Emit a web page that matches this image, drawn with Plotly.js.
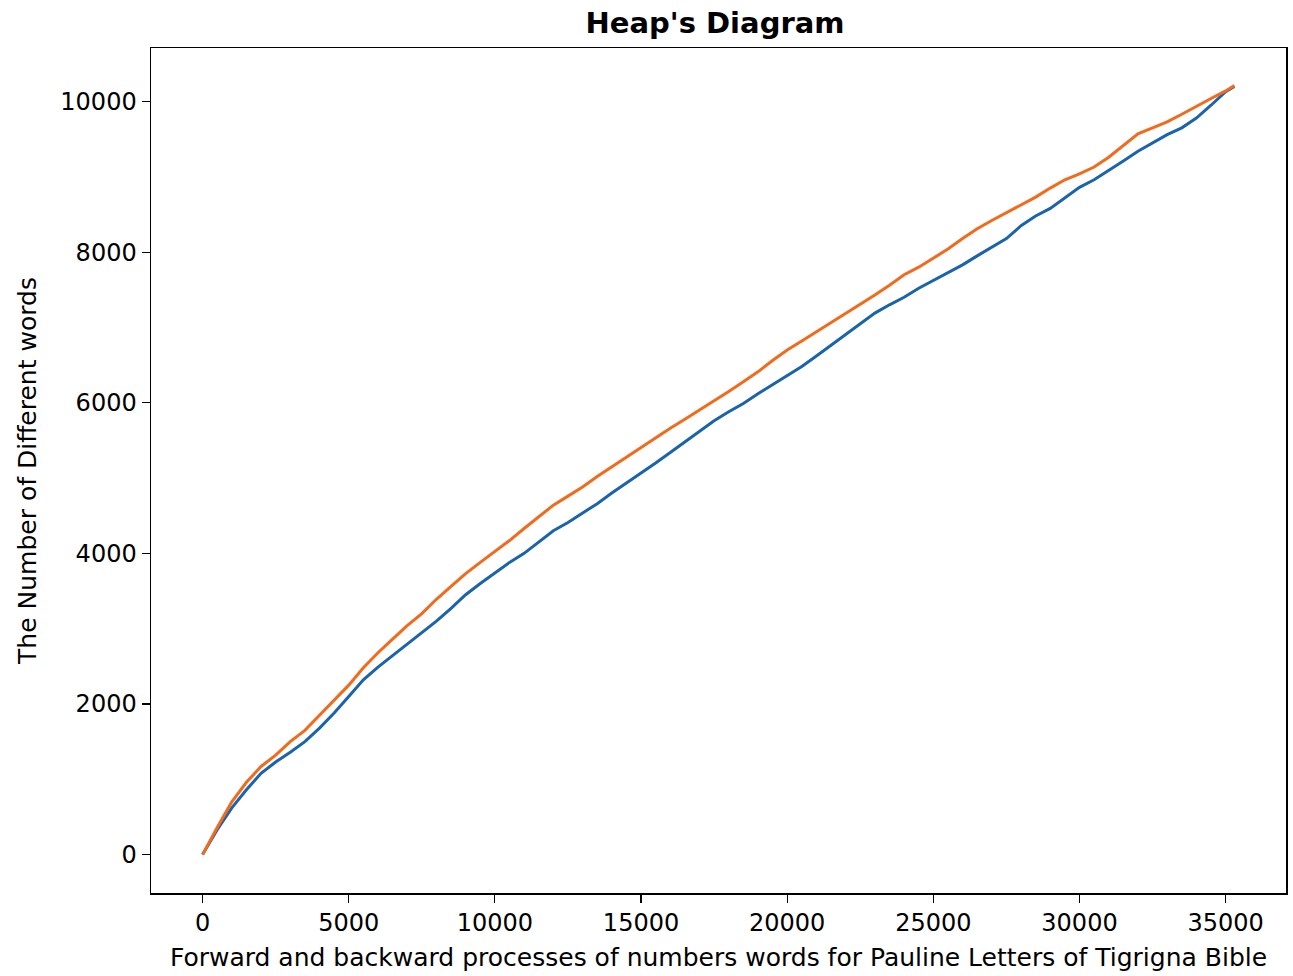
<!DOCTYPE html>
<html>
<head>
<meta charset="utf-8">
<script src="https://cdn.plot.ly/plotly-3.0.1.min.js"></script>
<style>html,body{margin:0;padding:0;background:#fff}</style>
</head>
<body>
<div id="chart" style="width:1293px;height:976px"></div>
<script>
const wordsX = [0,250,500,1000,1500,2000,2500,3000,3500,4000,4500,5000,5500,6000,6500,7000,7500,8000,8500,9000,9500,10000,10500,11000,11500,12000,12500,13000,13500,14000,14500,15000,15500,16000,16500,17000,17500,18000,18500,19000,19500,20000,20500,21000,21500,22000,22500,23000,23500,24000,24500,25000,25500,26000,26500,27000,27500,28000,28500,29000,29500,30000,30500,31000,31500,32000,32500,33000,33500,34000,34500,35000,35300];
const forwardY = [0,170,330,620,860,1080,1230,1360,1500,1680,1880,2100,2320,2490,2640,2800,2950,3100,3270,3450,3600,3740,3880,4000,4150,4300,4410,4530,4660,4800,4930,5060,5200,5340,5480,5620,5760,5880,5990,6120,6240,6360,6480,6620,6760,6900,7050,7190,7300,7400,7520,7620,7730,7830,7950,8060,8180,8350,8480,8580,8720,8860,8960,9080,9210,9340,9450,9560,9650,9780,9950,10130,10200];
const backwardY = [0,190,360,700,960,1170,1320,1500,1650,1850,2050,2250,2480,2680,2860,3040,3200,3390,3560,3730,3880,4020,4170,4330,4490,4640,4760,4880,5020,5150,5280,5410,5540,5660,5780,5900,6020,6150,6280,6410,6560,6700,6820,6940,7060,7190,7310,7430,7560,7700,7800,7920,8040,8180,8310,8420,8520,8620,8730,8850,8960,9040,9130,9260,9420,9570,9650,9730,9830,9940,10040,10140,10210];
const xTicks = [0,5000,10000,15000,20000,25000,30000,35000];
const yTicks = [0,2000,4000,6000,8000,10000];

const traces = [
  {x: wordsX, y: forwardY, type: 'scatter', mode: 'lines', name: 'Forward',
   line: {color: '#1b63ab', width: 3}},
  {x: wordsX, y: backwardY, type: 'scatter', mode: 'lines', name: 'Backward',
   line: {color: '#f26a1b', width: 3}}
];

const tickFont = {family: 'DejaVu Sans, sans-serif', size: 24, color: '#000'};
const axFont = {family: 'DejaVu Sans, sans-serif', size: 25, color: '#000'};
const layout = {
  width: 1293, height: 976,
  margin: {l: 151, r: 7, t: 48, b: 83},
  paper_bgcolor: '#fff', plot_bgcolor: '#fff',
  showlegend: false,
  font: tickFont,
  title: {text: "<b>Heap's Diagram</b>", x: 0.553, xanchor: 'center', y: 0.977, yanchor: 'middle',
          font: {family: 'DejaVu Sans, sans-serif', size: 29, color: '#000'}},
  xaxis: {
    range: [-1765, 37065], tickvals: xTicks, ticktext: xTicks.map(String),
    showgrid: false, zeroline: false, showline: true, mirror: true,
    linecolor: '#000', linewidth: 1.5, ticks: 'outside', ticklen: 8, tickwidth: 1.2, tickcolor: '#000',
    tickfont: tickFont,
    title: {text: 'Forward and backward processes of numbers words for Pauline Letters of Tigrigna Bible',
            font: axFont, standoff: 12}
  },
  yaxis: {
    range: [-510, 10710], tickvals: yTicks, ticktext: yTicks.map(String),
    showgrid: false, zeroline: false, showline: true, mirror: true,
    linecolor: '#000', linewidth: 1.5, ticks: 'outside', ticklen: 8, tickwidth: 1.2, tickcolor: '#000',
    tickfont: tickFont,
    title: {text: 'The Number of Different words', font: axFont, standoff: 16}
  }
};
Plotly.newPlot('chart', traces, layout, {displayModeBar: false, staticPlot: true});
</script>
</body>
</html>
